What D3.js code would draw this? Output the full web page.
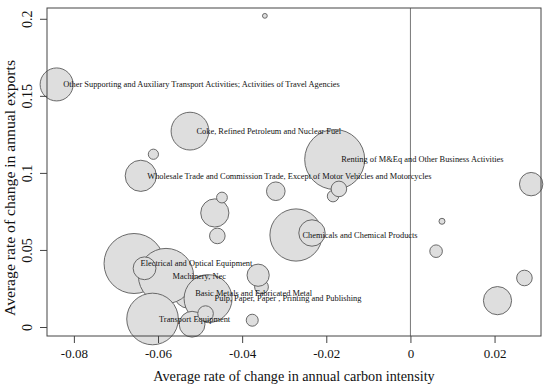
<!DOCTYPE html>
<html>
<head>
<meta charset="utf-8">
<script src="https://cdn.jsdelivr.net/npm/d3@7"></script>
<style>
  body { margin: 0; background: #fff; }
  svg { font-family: "Liberation Serif", "Times New Roman", serif; }
</style>
</head>
<body>
<div id="chart"></div>
<script>
// one entry per sector, in drawing order (empty label = unlabelled bubble)
var sectors = [
  "Renting of M&Eq and Other Business Activities",
  "Electrical and Optical Equipment",
  "Basic Metals and Fabricated Metal",
  "Machinery, Nec",
  "Chemicals and Chemical Products",
  "Transport Equipment",
  "Pulp, Paper, Paper , Printing and Publishing",
  "Coke, Refined Petroleum and Nuclear Fuel",
  "Other Supporting and Auxiliary Transport Activities; Activities of Travel Agencies",
  "Wholesale Trade and Commission Trade, Except of Motor Vehicles and Motorcycles",
  "", "", "", "", "", "", "", "", "", "",
  "", "", "", "", "", "", "", "", "", ""
];
var carbon = [
  -0.0180, -0.0657, -0.0527, -0.0581, -0.0272, -0.0613, -0.0481, -0.0524, -0.0841, -0.0641,
  -0.0465, 0.0207, -0.0234, -0.0519, 0.0287, -0.0632, -0.0354, -0.0362, -0.0320, -0.0184,
  -0.0170, -0.0459, 0.0271, -0.0487, 0.0061, -0.0376, -0.0448, -0.0611, 0.0075, -0.0346
];
var exports_ = [
  0.1087, 0.0412, 0.0219, 0.0331, 0.0597, 0.0052, 0.0184, 0.1271, 0.1574, 0.0981,
  0.0740, 0.0171, 0.0610, 0.0018, 0.0927, 0.0381, 0.0260, 0.0336, 0.0881, 0.0849,
  0.0896, 0.0591, 0.0318, 0.0087, 0.0492, 0.0044, 0.0840, 0.1121, 0.0686, 0.2019
];
var size = [
  1.00, 1.00, 0.50, 0.92, 0.87, 0.86, 0.80, 0.63, 0.55, 0.52,
  0.47, 0.47, 0.44, 0.43, 0.39, 0.38, 0.23, 0.37, 0.31, 0.19,
  0.26, 0.26, 0.26, 0.26, 0.21, 0.20, 0.18, 0.17, 0.10, 0.08
];
var xTicks = [-0.08, -0.06, -0.04, -0.02, 0, 0.02];
var yTicks = [0, 0.05, 0.1, 0.15, 0.2];

var W = 550, H = 387;
var margin = {top: 8, right: 9, bottom: 51, left: 47};

var svg = d3.select("#chart").append("svg")
    .attr("width", W)
    .attr("height", H);

var x = d3.scaleLinear()
    .domain([-0.08639, 0.03104])
    .range([margin.left, W - margin.right]);

var y = d3.scaleLinear()
    .domain([-0.00584, 0.2070])
    .range([H - margin.bottom, margin.top]);

var r = d3.scaleLinear()
    .domain([0, d3.max(size)])
    .range([0, 30]);

var data = carbon.map(function(d, i) {
    return {name: sectors[i], cx: d, cy: exports_[i], s: size[i]};
});

var plot = svg.append("g");

// zero line
plot.append("line")
    .attr("x1", x(0)).attr("x2", x(0))
    .attr("y1", margin.top).attr("y2", H - margin.bottom)
    .attr("stroke", "#777")
    .attr("stroke-width", 1);

plot.selectAll("circle")
    .data(data)
    .enter()
    .append("circle")
    .attr("cx", function(d) { return x(d.cx); })
    .attr("cy", function(d) { return y(d.cy); })
    .attr("r", function(d) { return r(d.s); })
    .attr("fill", "#dedede")
    .attr("stroke", "#5a5a5a")
    .attr("stroke-width", 0.9);

plot.selectAll("text.lab")
    .data(data.filter(function(d) { return d.name !== ""; }))
    .enter()
    .append("text")
    .attr("class", "lab")
    .attr("x", function(d) { return x(d.cx) + 6.5; })
    .attr("y", function(d) { return y(d.cy); })
    .attr("dy", "0.33em")
    .style("font-size", "8.4px")
    .attr("fill", "#111")
    .text(function(d) { return d.name; });

// box
svg.append("rect")
    .attr("x", margin.left)
    .attr("y", margin.top)
    .attr("width", W - margin.right - margin.left)
    .attr("height", H - margin.bottom - margin.top)
    .attr("fill", "none")
    .attr("stroke", "#444")
    .attr("stroke-width", 1);

var fmt = function(d) { return d === 0 ? "0" : String(+d.toFixed(2)); };

// x axis
var gx = svg.append("g")
    .attr("transform", "translate(0," + (H - margin.bottom) + ")")
    .call(d3.axisBottom(x).tickValues(xTicks).tickSize(7).tickPadding(6)
        .tickFormat(function(d) { return d === 0 ? "0" : d.toFixed(2); }));
gx.select(".domain").remove();
gx.selectAll("line").attr("stroke", "#444");
gx.selectAll("text")
    .style("font-size", "13px")
    .style("font-family", "Liberation Serif")
    .attr("fill", "#111");

// y axis, labels rotated like base R
var gy = svg.append("g")
    .attr("transform", "translate(" + margin.left + ",0)")
    .call(d3.axisLeft(y).tickValues(yTicks).tickSize(7).tickFormat(fmt));
gy.select(".domain").remove();
gy.selectAll("line").attr("stroke", "#444");
gy.selectAll("text")
    .attr("x", 0).attr("dy", 0)
    .attr("text-anchor", "middle")
    .attr("transform", "translate(-15.5,0) rotate(-90)")
    .style("font-size", "14px")
    .style("font-family", "Liberation Serif")
    .attr("fill", "#111");

svg.append("text")
    .attr("x", (margin.left + W - margin.right) / 2)
    .attr("y", 381)
    .attr("text-anchor", "middle")
    .style("font-size", "14.2px")
    .attr("fill", "#111")
    .text("Average rate of change in annual carbon intensity");

svg.append("text")
    .attr("transform", "translate(15," + ((margin.top + H - margin.bottom) / 2 + 16) + ") rotate(-90)")
    .attr("text-anchor", "middle")
    .attr("textLength", 256)
    .attr("lengthAdjust", "spacingAndGlyphs")
    .style("font-size", "15px")
    .attr("fill", "#111")
    .text("Average rate of change in annual exports");
</script>
</body>
</html>
